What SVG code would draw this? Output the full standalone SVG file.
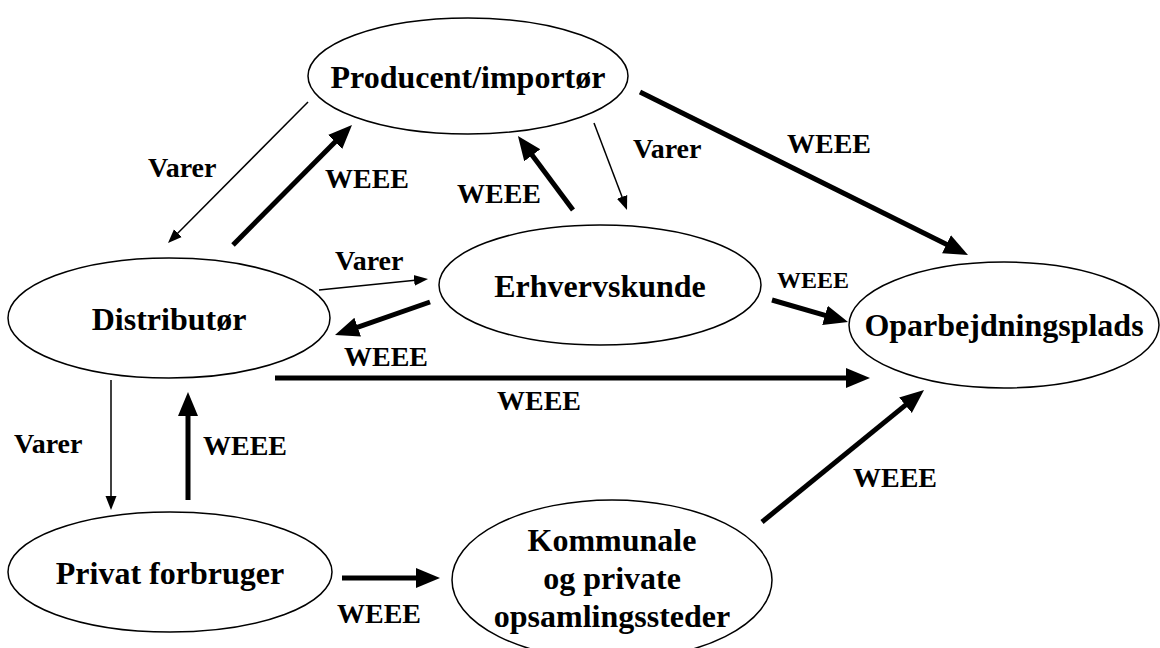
<svg xmlns="http://www.w3.org/2000/svg" width="1160" height="648" viewBox="0 0 1160 648">
<style>
  .node ellipse { fill: #ffffff; stroke: #000000; stroke-width: 1.5; }
  .node text { font-weight: 700; font-size: 32px; fill: #000000; text-anchor: middle; }
  .lbl { font-weight: 700; font-size: 28px; fill: #000000; }
  .lbl.small { font-size: 24px; }
  .thin { stroke: #000000; stroke-width: 1.5; fill: none; marker-end: url(#headThin); }
  .thick { stroke: #000000; stroke-width: 5; fill: none; marker-end: url(#headThick); }
</style>
<defs>
  <marker id="headThin" markerUnits="userSpaceOnUse" markerWidth="16" markerHeight="14" refX="1" refY="7" orient="auto">
    <path d="M0,1.5 L14,7 L0,12.5 z" fill="#000000"/>
  </marker>
  <marker id="headThick" markerUnits="userSpaceOnUse" markerWidth="26" markerHeight="24" refX="2" refY="12" orient="auto">
    <path d="M0,2 L24,12 L0,22 z" fill="#000000"/>
  </marker>
</defs>
<rect x="0" y="0" width="1160" height="648" fill="#ffffff"/>

<g id="connectors">
  <line class="thin" x1="308" y1="102" x2="177.2" y2="233.8"/>
  <line class="thick" x1="233" y1="245" x2="336.5" y2="140.6"/>
  <line class="thick" x1="573" y1="210" x2="531.1" y2="153.7"/>
  <line class="thin" x1="594" y1="123" x2="622.4" y2="197.8"/>
  <line class="thick" x1="640" y1="92" x2="948.3" y2="245.2"/>
  <line class="thin" x1="319" y1="290" x2="415.1" y2="280.3"/>
  <line class="thick" x1="430" y1="302" x2="355.8" y2="327.8"/>
  <line class="thick" x1="772" y1="300" x2="826.9" y2="315.9"/>
  <line class="thick" x1="275" y1="378" x2="848" y2="378"/>
  <line class="thin" x1="111" y1="380" x2="111" y2="497"/>
  <line class="thick" x1="188" y1="500" x2="188" y2="414"/>
  <line class="thick" x1="762" y1="522" x2="907" y2="403.9"/>
  <line class="thick" x1="342" y1="578" x2="418" y2="578"/>
</g>

<g id="labels" font-family="Liberation Serif, Times New Roman, Times, serif">
  <text class="lbl" x="148" y="177">Varer</text>
  <text class="lbl" x="325" y="188">WEEE</text>
  <text class="lbl" x="457" y="203">WEEE</text>
  <text class="lbl" x="633" y="158">Varer</text>
  <text class="lbl" x="787" y="153">WEEE</text>
  <text class="lbl" x="335" y="270">Varer</text>
  <text class="lbl small" x="777" y="288">WEEE</text>
  <text class="lbl" x="344" y="366">WEEE</text>
  <text class="lbl" x="497" y="410">WEEE</text>
  <text class="lbl" x="14" y="453">Varer</text>
  <text class="lbl" x="203" y="455">WEEE</text>
  <text class="lbl" x="853" y="487">WEEE</text>
  <text class="lbl" x="337" y="623">WEEE</text>
</g>

<g id="nodes" font-family="Liberation Serif, Times New Roman, Times, serif">
<g id="producent" class="node">
  <ellipse cx="468" cy="76" rx="160" ry="58"/>
  <text x="468" y="88">Producent/importør</text>
</g>
<g id="erhvervskunde" class="node">
  <ellipse cx="600" cy="285" rx="161" ry="60"/>
  <text x="600" y="297">Erhvervskunde</text>
</g>
<g id="distributor" class="node">
  <ellipse cx="169" cy="318" rx="161" ry="60"/>
  <text x="169" y="330">Distributør</text>
</g>
<g id="oparbejdningsplads" class="node">
  <ellipse cx="1004" cy="325" rx="155" ry="63"/>
  <text x="1004" y="336">Oparbejdningsplads</text>
</g>
<g id="privat" class="node">
  <ellipse cx="170" cy="572" rx="162" ry="60"/>
  <text x="170" y="584">Privat forbruger</text>
</g>
<g id="kommunale" class="node">
  <ellipse cx="612" cy="580" rx="160" ry="80" style="fill:none"/>
  <text x="612" y="551">Kommunale</text>
  <text x="612" y="589">og private</text>
  <text x="612" y="627">opsamlingssteder</text>
</g>
</g>
</svg>
